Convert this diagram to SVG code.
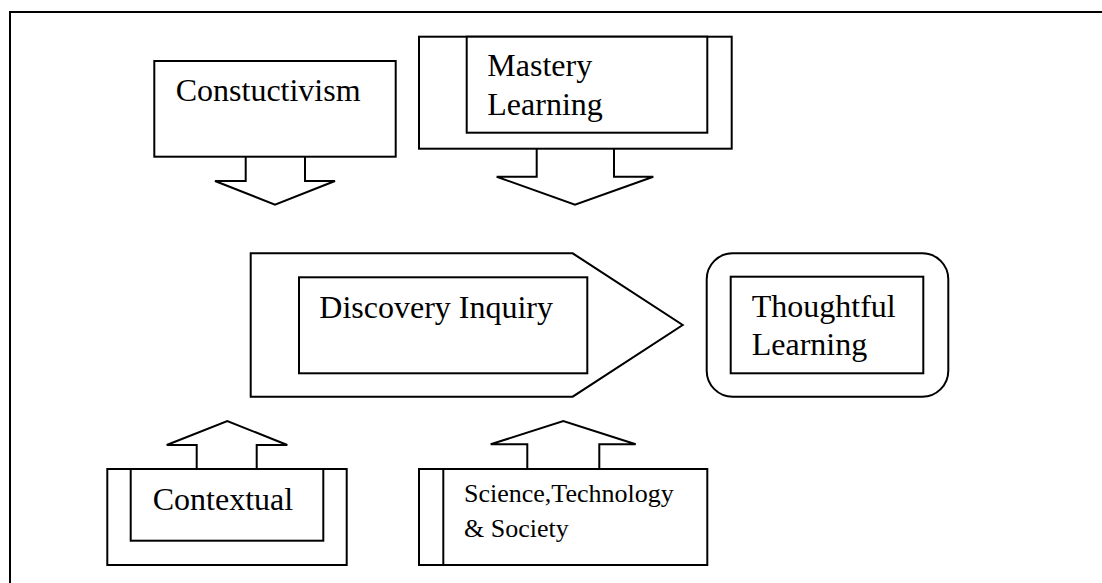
<svg xmlns="http://www.w3.org/2000/svg" width="1102" height="583" viewBox="0 0 1102 583">
  <style>
    .shape { fill: #fff; stroke: #000; stroke-width: 2; }
    .line { fill: none; stroke: #000; stroke-width: 2; stroke-linejoin: miter; }
    .label { font-family: "Liberation Serif", "Times New Roman", serif; font-size: 32px; fill: #000; }
    .small { font-size: 26px; }
  </style>
  <rect width="1102" height="583" fill="#fff"/>

  <!-- page frame -->
  <path class="line" d="M10,583 V12 H1102"/>

  <!-- block arrows -->
  <g id="connectors">
    <polyline class="line" points="245.7,157 245.7,181 215,181 275,204.7 335,181 305,181 305,157"/>
    <polyline class="line" points="536.7,148.7 536.7,176.7 496.7,176.7 575,204.7 653.3,176.7 614,176.7 614,148.7"/>
    <polyline class="line" points="196.7,469 196.7,445 166.7,445 227.3,421 287.3,445 256.7,445 256.7,469"/>
    <polyline class="line" points="527.3,469 527.3,444.3 490.7,444.3 563.3,421 635.7,444.3 599.3,444.3 599.3,469"/>
  </g>

  <g id="constructivism">
    <rect class="shape" x="154.3" y="61" width="241.4" height="95.7"/>
    <text class="label" x="175.7" y="100.7">Constuctivism</text>
  </g>

  <g id="mastery-learning">
    <rect class="shape" x="419" y="36.7" width="312.7" height="112"/>
    <rect class="shape" x="466.7" y="36.7" width="240.6" height="96"/>
    <text class="label" x="487.3" y="76">Mastery</text>
    <text class="label" x="487.3" y="115">Learning</text>
  </g>

  <g id="discovery-inquiry">
    <polygon class="shape" points="250.7,253.3 572.7,253.3 682.7,325 572.7,396.7 250.7,396.7"/>
    <rect class="shape" x="299" y="277.3" width="288.3" height="96"/>
    <text class="label" x="319.3" y="318.3">Discovery Inquiry</text>
  </g>

  <g id="thoughtful-learning">
    <rect class="shape" x="706.7" y="253.3" width="241.6" height="143.4" rx="26" ry="26"/>
    <rect class="shape" x="730.7" y="276.7" width="192.6" height="96.6"/>
    <text class="label" x="751.7" y="316.7">Thoughtful</text>
    <text class="label" x="751.7" y="355">Learning</text>
  </g>

  <g id="contextual">
    <rect class="shape" x="107.3" y="469" width="239.4" height="96"/>
    <rect class="shape" x="130.7" y="469" width="192.6" height="71.7"/>
    <text class="label" x="152.7" y="510">Contextual</text>
  </g>

  <g id="science-technology-society">
    <rect class="shape" x="419" y="469" width="288.3" height="96"/>
    <line class="line" x1="443.3" y1="469" x2="443.3" y2="565"/>
    <text class="label small" x="464" y="501.7">Science,Technology</text>
    <text class="label small" x="464" y="536.7">&amp; Society</text>
  </g>
</svg>
